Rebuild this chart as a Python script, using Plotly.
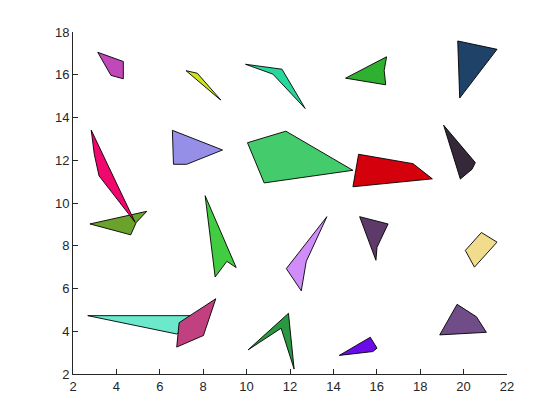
import plotly.graph_objects as go

# Polygon vertices (data units), drawn in order
shape_names = ["orchid", "lime", "teal", "green_tri", "navy", "dark_tri",
               "olive", "hotpink", "lavender", "lightgreen", "red", "arrow_green",
               "aqua", "rose", "lilac", "plum", "darkgreen", "violet", "yellow", "purple"]

xs = {
    "orchid":      [3.14, 4.32, 4.32, 3.75],
    "lime":        [7.21, 7.73, 8.81, 8.75],
    "teal":        [9.95, 11.63, 12.70, 11.21],
    "green_tri":   [14.56, 16.45, 16.34, 16.41],
    "navy":        [19.73, 21.54, 19.82],
    "dark_tri":    [19.08, 20.54, 20.39, 19.85],
    "olive":       [2.78, 5.40, 4.91, 4.66],
    "hotpink":     [2.84, 2.98, 3.20, 4.86],
    "lavender":    [6.58, 8.89, 7.24, 6.63],
    "lightgreen":  [10.04, 11.81, 14.90, 10.81],
    "red":         [15.16, 17.67, 18.56, 14.90],
    "arrow_green": [8.09, 9.52, 9.09, 8.55],
    "aqua":        [2.68, 7.90, 6.78],
    "rose":        [6.89, 8.58, 8.01, 6.78],
    "lilac":       [13.70, 12.75, 12.52, 11.83],
    "plum":        [15.21, 16.52, 16.01, 15.96],
    "darkgreen":   [10.07, 11.93, 12.19, 11.59],
    "violet":      [14.27, 15.70, 16.01, 15.82],
    "yellow":      [20.82, 21.54, 20.50, 20.08],
    "purple":      [19.70, 20.59, 21.05, 18.90],
}
ys = {
    "orchid":      [17.05, 16.62, 15.81, 15.97],
    "lime":        [16.19, 16.07, 14.82, 14.86],
    "teal":        [16.49, 16.26, 14.42, 16.03],
    "green_tri":   [15.84, 16.84, 16.20, 15.53],
    "navy":        [17.58, 17.19, 14.91],
    "dark_tri":    [13.64, 11.89, 11.58, 11.12],
    "olive":       [9.02, 9.61, 9.08, 8.51],
    "hotpink":     [13.41, 12.28, 11.27, 9.10],
    "lavender":    [13.40, 12.48, 11.81, 11.81],
    "lightgreen":  [12.82, 13.36, 11.53, 10.94],
    "red":         [12.28, 11.84, 11.13, 10.76],
    "arrow_green": [10.34, 6.98, 7.27, 6.54],
    "aqua":        [4.73, 4.73, 3.87],
    "rose":        [4.40, 5.52, 3.80, 3.26],
    "lilac":       [9.36, 7.27, 5.89, 6.93],
    "plum":        [9.36, 9.02, 7.93, 7.32],
    "darkgreen":   [3.13, 4.84, 2.23, 4.14],
    "violet":      [2.87, 3.72, 3.21, 3.05],
    "yellow":      [8.62, 8.17, 7.00, 7.78],
    "purple":      [5.26, 4.68, 3.95, 3.83],
}
colors = {
    "orchid": "rgb(192,72,184)",
    "lime": "rgb(204,228,24)",
    "teal": "rgb(38,216,155)",
    "green_tri": "rgb(48,176,48)",
    "navy": "rgb(30,66,104)",
    "dark_tri": "rgb(53,40,56)",
    "olive": "rgb(106,162,44)",
    "hotpink": "rgb(240,8,110)",
    "lavender": "rgb(150,143,232)",
    "lightgreen": "rgb(68,204,108)",
    "red": "rgb(212,0,12)",
    "arrow_green": "rgb(66,204,66)",
    "aqua": "rgb(108,232,204)",
    "rose": "rgb(192,64,128)",
    "lilac": "rgb(208,140,248)",
    "plum": "rgb(94,58,104)",
    "darkgreen": "rgb(42,152,64)",
    "violet": "rgb(106,12,232)",
    "yellow": "rgb(240,220,140)",
    "purple": "rgb(112,76,136)",
}

x_ticks = [2, 4, 6, 8, 10, 12, 14, 16, 18, 20, 22]
y_ticks = [2, 4, 6, 8, 10, 12, 14, 16, 18]

fig = go.Figure()
for name in shape_names:
    px = xs[name] + [xs[name][0]]
    py = ys[name] + [ys[name][0]]
    fig.add_trace(go.Scatter(
        x=px, y=py, mode="lines", fill="toself",
        fillcolor=colors[name],
        line=dict(color="black", width=0.9),
        hoverinfo="skip", showlegend=False,
    ))

axis_common = dict(
    showline=True, linecolor="#262626", linewidth=1,
    ticks="inside", ticklen=5, tickcolor="#262626",
    showgrid=False, zeroline=False, mirror=False,
    tickfont=dict(family="Liberation Sans, Arial, sans-serif", size=13, color="#262626"),
)
fig.update_xaxes(range=[2, 22], tickvals=x_ticks, **axis_common)
fig.update_yaxes(range=[2, 18], tickvals=y_ticks, **axis_common)

fig.update_layout(
    width=560, height=420,
    margin=dict(l=65, r=61, t=24, b=54),
    paper_bgcolor="white", plot_bgcolor="white",
    showlegend=False,
)
fig.write_html("out.html")
